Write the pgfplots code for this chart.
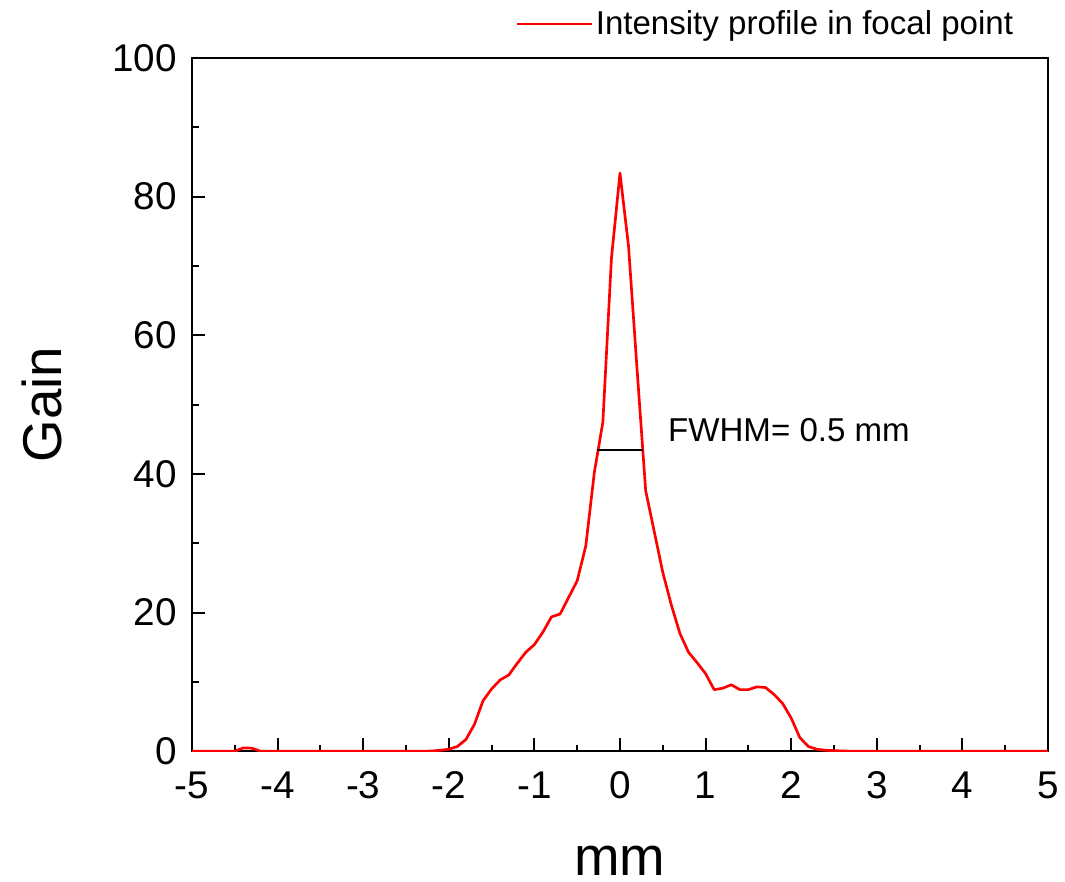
\documentclass[border=0pt]{standalone}
\usepackage{fontspec}
\setmainfont{Liberation Sans}
\usepackage{pgfplots}
\pgfplotsset{compat=1.18}

\begin{document}
\begin{tikzpicture}
\begin{axis}[
scale only axis,width=642pt,height=520pt,
xmin=-5,xmax=5,ymin=0,ymax=100,
xtick={-5,...,5},ytick={0,20,...,100},
minor xtick={-4.5,-3.5,...,4.5},minor ytick={10,30,...,90},
xtick pos=left,ytick pos=left,tick align=inside,
major tick length=10pt,minor tick length=5pt,
every tick/.style={line width=1.5pt,black},
axis line style={line width=1.5pt},
/pgf/number format/assume math mode=true,
tick label style={font=\fontsize{29}{31}\selectfont},
xticklabel style={anchor=center,yshift=-25.5pt},
xticklabel shift=0pt,
yticklabel style={anchor=east,xshift=-8pt},
xlabel={mm},ylabel={Gain},
label style={font=\fontsize{41}{44}\selectfont,inner sep=0pt},
xlabel style={at={(axis description cs:0.5,0)},anchor=south,text depth=0pt,yshift=-93.5pt},
ylabel style={at={(axis description cs:0,0.5)},anchor=center,yshift=112.5pt},
legend style={draw=none,fill=none,at={(axis description cs:1,1)},anchor=east,
  xshift=-24pt,yshift=25.5pt,inner sep=0pt,
  font=\fontsize{24.8}{28}\selectfont,legend cell align=left},
legend image code/.code={\draw[#1,line width=1.6pt] (0pt,0pt) -- (56pt,0pt);},
]
\addplot[red,line width=2pt,line join=round] coordinates {
(-5.0,0) (-4.9,0) (-4.8,0) (-4.7,0) (-4.6,0) (-4.5,0.02) (-4.4,0.5) (-4.3,0.45) (-4.2,0.02)
(-4.1,0) (-4.0,0) (-3.5,0) (-3.0,0) (-2.5,0) (-2.3,0.02) (-2.2,0.05) (-2.1,0.15)
(-2.0,0.3) (-1.9,0.7) (-1.8,1.7) (-1.7,3.9) (-1.6,7.3) (-1.5,9.0) (-1.4,10.3)
(-1.3,11.0) (-1.2,12.7) (-1.1,14.3) (-1.0,15.4) (-0.9,17.2) (-0.8,19.4) (-0.7,19.8)
(-0.6,22.2) (-0.5,24.6) (-0.4,29.6) (-0.3,40.2) (-0.2,47.5) (-0.1,71.1) (0,83.4)
(0.1,72.8) (0.2,55.0) (0.3,37.6) (0.4,31.7) (0.5,25.8) (0.6,21.1) (0.7,17.0)
(0.8,14.3) (0.9,12.8) (1.0,11.2) (1.1,8.9) (1.2,9.1) (1.3,9.6) (1.4,8.9) (1.5,8.9)
(1.6,9.3) (1.7,9.2) (1.8,8.2) (1.9,6.9) (2.0,4.8) (2.1,2.0) (2.2,0.7) (2.3,0.3)
(2.4,0.15) (2.5,0.1) (2.6,0.05) (2.7,0.02) (3.0,0) (3.5,0) (4.0,0) (4.5,0) (5.0,0)
};
\addlegendentry{Intensity profile in focal point}
\addplot[black,line width=1.5pt,forget plot] coordinates {(-0.27,43.4) (0.27,43.4)};
\node[anchor=west,font=\fontsize{24.8}{28}\selectfont,inner sep=0pt] at (axis cs:0.56,46.3) {FWHM= 0.5 mm};
\end{axis}
\path[use as bounding box] (-144pt,-97.5pt) rectangle (654.75pt,563.5pt);
\end{tikzpicture}
\end{document}
